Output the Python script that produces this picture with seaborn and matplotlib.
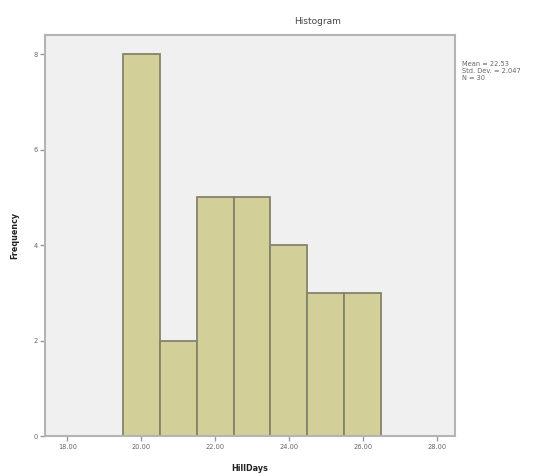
import numpy as np
import pandas as pd
import matplotlib
matplotlib.use("Agg")
import matplotlib.pyplot as plt
import seaborn as sns

# ---- data ----
days = [20, 21, 22, 23, 24, 25, 26]
counts = [8, 2, 5, 5, 4, 3, 3]
x_ticks = [18, 20, 22, 24, 26, 28]
y_ticks = [0, 2, 4, 6, 8]

df = pd.DataFrame({'HillDays': np.repeat(days, counts)})
mean = df['HillDays'].mean()
sd = df['HillDays'].std()
n = len(df)

sns.set_style("white")
plt.rcParams['font.family'] = ['DejaVu Sans']

fig = plt.figure(figsize=(5.45, 4.74), dpi=100)
ax = fig.add_axes([0.083, 0.080, 0.752, 0.846])
ax.set_facecolor('#f0f0f0')

sns.histplot(data=df, x='HillDays', discrete=True, color='#d3cf98', alpha=1,
             edgecolor='#85836a', linewidth=1.3, ax=ax)

ax.set_xlim(17.4, 28.5)
ax.set_ylim(0, 8.4)
ax.set_xticks(x_ticks)
ax.set_xticklabels([f'{t:.2f}' for t in x_ticks], fontsize=4.8, color='#666666')
ax.set_yticks(y_ticks)
ax.set_yticklabels([str(t) for t in y_ticks], fontsize=4.8, color='#666666')
ax.tick_params(axis='both', length=3.5, width=1, color='#999999', pad=2, direction='out',
               bottom=True, left=True)
for s in ax.spines.values():
    s.set_color('#b4b4b4')
    s.set_linewidth(1.5)

ax.set_xlabel('HillDays', fontsize=5.8, fontweight='bold', color='#222222', labelpad=10)
ax.set_ylabel('Frequency', fontsize=5.8, fontweight='bold', color='#222222', labelpad=10)

fig.text(0.583, 0.945, 'Histogram', fontsize=6.5, color='#444444', ha='center', va='bottom')
fig.text(0.848, 0.872, f'Mean = {mean:.2f}\nStd. Dev. = {sd:.3f}\nN = {n}',
         fontsize=4.8, color='#666666', ha='left', va='top', linespacing=1.2)

fig.savefig('out.png', dpi=100)
